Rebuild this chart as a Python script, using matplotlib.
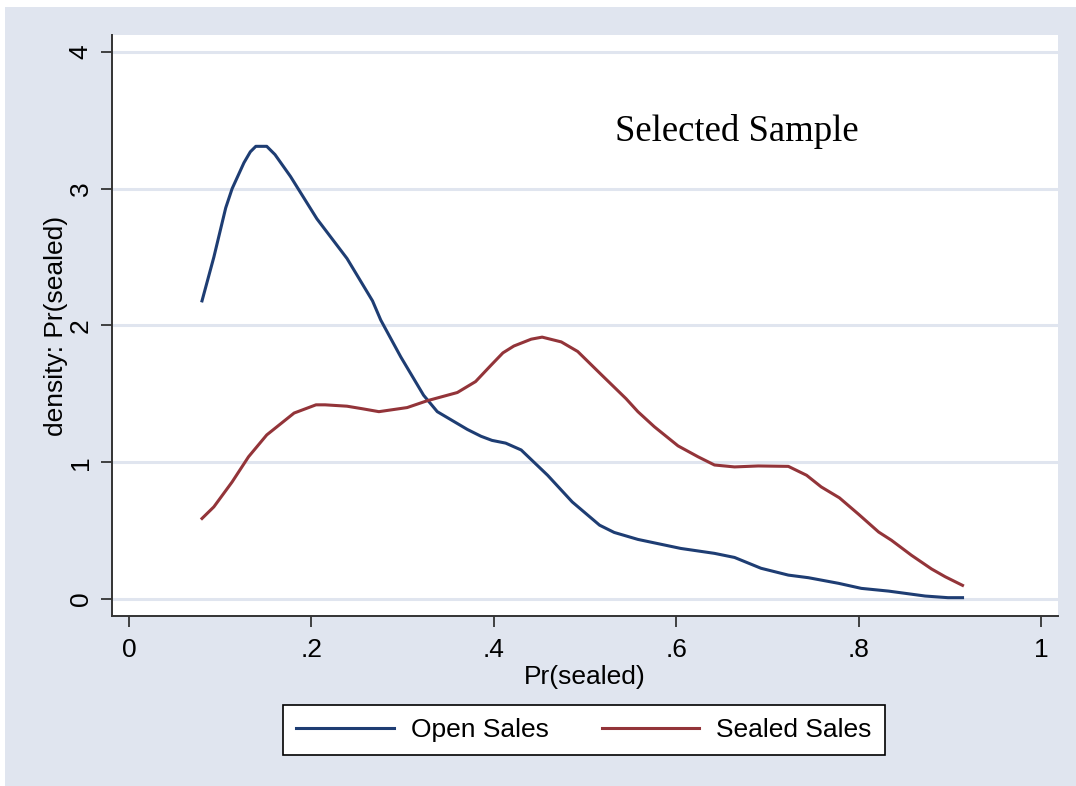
import matplotlib
matplotlib.use("Agg")
import matplotlib.pyplot as plt
from matplotlib.patches import Rectangle

plt.rcParams['font.family'] = ['Liberation Sans', 'DejaVu Sans']

# kernel density, Open Sales
open_x = [0.080, 0.093, 0.106, 0.113, 0.126, 0.133, 0.139, 0.151, 0.160, 0.177,
          0.206, 0.239, 0.267, 0.276, 0.298, 0.323, 0.338, 0.371, 0.386, 0.398,
          0.413, 0.430, 0.459, 0.486, 0.516, 0.532, 0.558, 0.605, 0.642, 0.664,
          0.693, 0.723, 0.745, 0.778, 0.803, 0.833, 0.873, 0.898, 0.914]
open_y = [2.18, 2.50, 2.86, 3.00, 3.19, 3.27, 3.31, 3.31, 3.25, 3.09,
          2.78, 2.49, 2.18, 2.04, 1.77, 1.49, 1.37, 1.24, 1.19, 1.16,
          1.14, 1.09, 0.905, 0.71, 0.54, 0.487, 0.436, 0.37, 0.334, 0.304,
          0.225, 0.175, 0.156, 0.115, 0.078, 0.058, 0.022, 0.010, 0.010]

# kernel density, Sealed Sales
sealed_x = [0.080, 0.093, 0.113, 0.131, 0.151, 0.166, 0.181, 0.205, 0.215, 0.239,
            0.257, 0.274, 0.305, 0.327, 0.360, 0.380, 0.397, 0.410, 0.422, 0.441,
            0.453, 0.474, 0.492, 0.518, 0.545, 0.558, 0.576, 0.602, 0.624, 0.642,
            0.664, 0.690, 0.723, 0.743, 0.759, 0.779, 0.800, 0.822, 0.836, 0.858,
            0.880, 0.895, 0.914]
sealed_y = [0.589, 0.674, 0.856, 1.04, 1.20, 1.28, 1.36, 1.42, 1.42, 1.41,
            1.39, 1.37, 1.40, 1.45, 1.51, 1.59, 1.71, 1.80, 1.85, 1.90,
            1.915, 1.88, 1.81, 1.64, 1.465, 1.37, 1.26, 1.12, 1.04, 0.98,
            0.966, 0.973, 0.97, 0.905, 0.82, 0.74, 0.62, 0.49, 0.43, 0.32,
            0.22, 0.163, 0.10]

x_ticks = [0, 0.2, 0.4, 0.6, 0.8, 1]
x_labels = ['0', '.2', '.4', '.6', '.8', '1']
y_ticks = [0, 1, 2, 3, 4]

bg = '#E0E5EF'
navy = '#1E3D73'
maroon = '#933439'
fs = 19

fig = plt.figure(figsize=(10.76, 7.86), dpi=100, facecolor='white')
# bluish graph region (thin white strip left and top like the original)
fig.patches.append(Rectangle((5 / 1076, 0), 1, 1 - 7 / 786, transform=fig.transFigure,
                             facecolor=bg, edgecolor='none', zorder=-10))

ax = fig.add_axes([112 / 1076, 1 - 616 / 786, 946 / 1076, 581 / 786])
ax.set_zorder(1)
ax.set_facecolor('white')

ax.plot(open_x, open_y, color=navy, lw=2.2, label='Open Sales')
ax.plot(sealed_x, sealed_y, color=maroon, lw=2.2, label='Sealed Sales')

ax.set_xlim(-0.0187, 1.0187)
ax.set_ylim(-0.124, 4.124)
ax.set_xticks(x_ticks)
ax.set_xticklabels(x_labels)
ax.set_yticks(y_ticks)
ax.set_yticklabels([str(v) for v in y_ticks], rotation=90, va='center')

ax.grid(axis='y', color=bg, lw=2.2)
ax.set_axisbelow(True)
for s in ['top', 'right']:
    ax.spines[s].set_visible(False)
for s in ['left', 'bottom']:
    ax.spines[s].set_color('#333333')
    ax.spines[s].set_linewidth(1.4)
ax.tick_params(direction='out', length=8, width=1.3, color='#333333',
               labelsize=fs, pad=6)
ax.tick_params(axis='x', pad=8)

ax.set_xlabel('Pr(sealed)', fontsize=fs, labelpad=2)
ax.set_ylabel('density: Pr(sealed)', fontsize=fs, labelpad=0.5)

ax.text(0.66, 0.834, 'Selected Sample', transform=ax.transAxes, ha='center', va='center',
        fontsize=26.5, family=['Liberation Serif', 'DejaVu Serif'])

leg = fig.legend(loc='center', bbox_to_anchor=(584 / 1076, 1 - 730 / 786), ncol=2,
                 fontsize=fs, fancybox=False, edgecolor='black', framealpha=1,
                 handlelength=3.7, handletextpad=0.65, columnspacing=2.0,
                 borderpad=0.5)
leg.set_zorder(2)
leg.get_frame().set_linewidth(1.2)

fig.savefig('out.png', dpi=100, facecolor=fig.get_facecolor())
